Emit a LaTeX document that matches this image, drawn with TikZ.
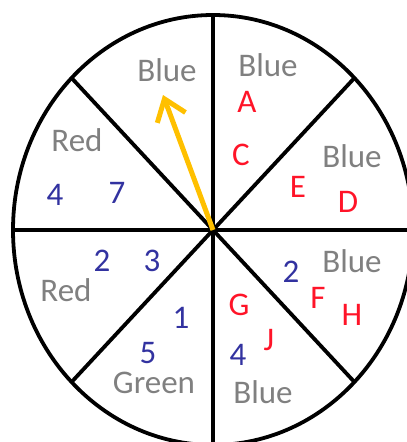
\documentclass[tikz,border=0pt]{standalone}
\usepackage{fontspec}
\setmainfont{Carlito}
\usetikzlibrary{arrows.meta}
\definecolor{wheelgray}{RGB}{128,128,128}
\definecolor{wheelred}{RGB}{255,20,40}
\definecolor{wheelblue}{RGB}{50,50,160}
\definecolor{pointer}{RGB}{255,192,0}
\begin{document}
\begin{tikzpicture}[x=1pt, y=-1pt, font=\fontsize{33}{35}\selectfont]
	\useasboundingbox (0,0) rectangle (407,442);
	\clip (0,0) rectangle (407,442);
	\coordinate (hub) at (213,230);
	\draw[line width=3.8pt] (hub) ellipse [x radius=200, y radius=215];
	\foreach \a in {0,45,...,315} {
		\draw[line width=3.8pt] (hub) -- ++(\a:200 and 215);
	}
	% colour names in the sectors
	\foreach \x / \y / \t [count=\i] in {167/70/Blue, 268/65/Blue, 352/156/Blue, 352/261/Blue, 263/392/Blue, 154/383/Green, 66/290/Red, 77/140/Red} {
		\node[wheelgray, inner sep=0pt] (name\i) at (\x, \y) {\t};
	}
	% letters
	\foreach \x / \y / \t [count=\i] in {247/102/A, 241/155/C, 298/187/E, 348/202/D, 318/298/F, 352/315/H, 239/305/G, 269/340/J} {
		\node[wheelred, inner sep=0pt] (letter\i) at (\x, \y) {\t};
	}
	% numbers
	\foreach \x / \y / \t [count=\i] in {55/195/4, 117/193/7, 102/261/2, 152/261/3, 181/318/1, 148/353/5, 238/355/4, 291/272/2} {
		\node[wheelblue, inner sep=0pt] (num\i) at (\x, \y) {\t};
	}
	\coordinate (tip) at (163,95);
	\draw[pointer, line width=5pt, -{Straight Barb[length=20pt, width=30pt]}] (hub) -- (tip);
\end{tikzpicture}
\end{document}
